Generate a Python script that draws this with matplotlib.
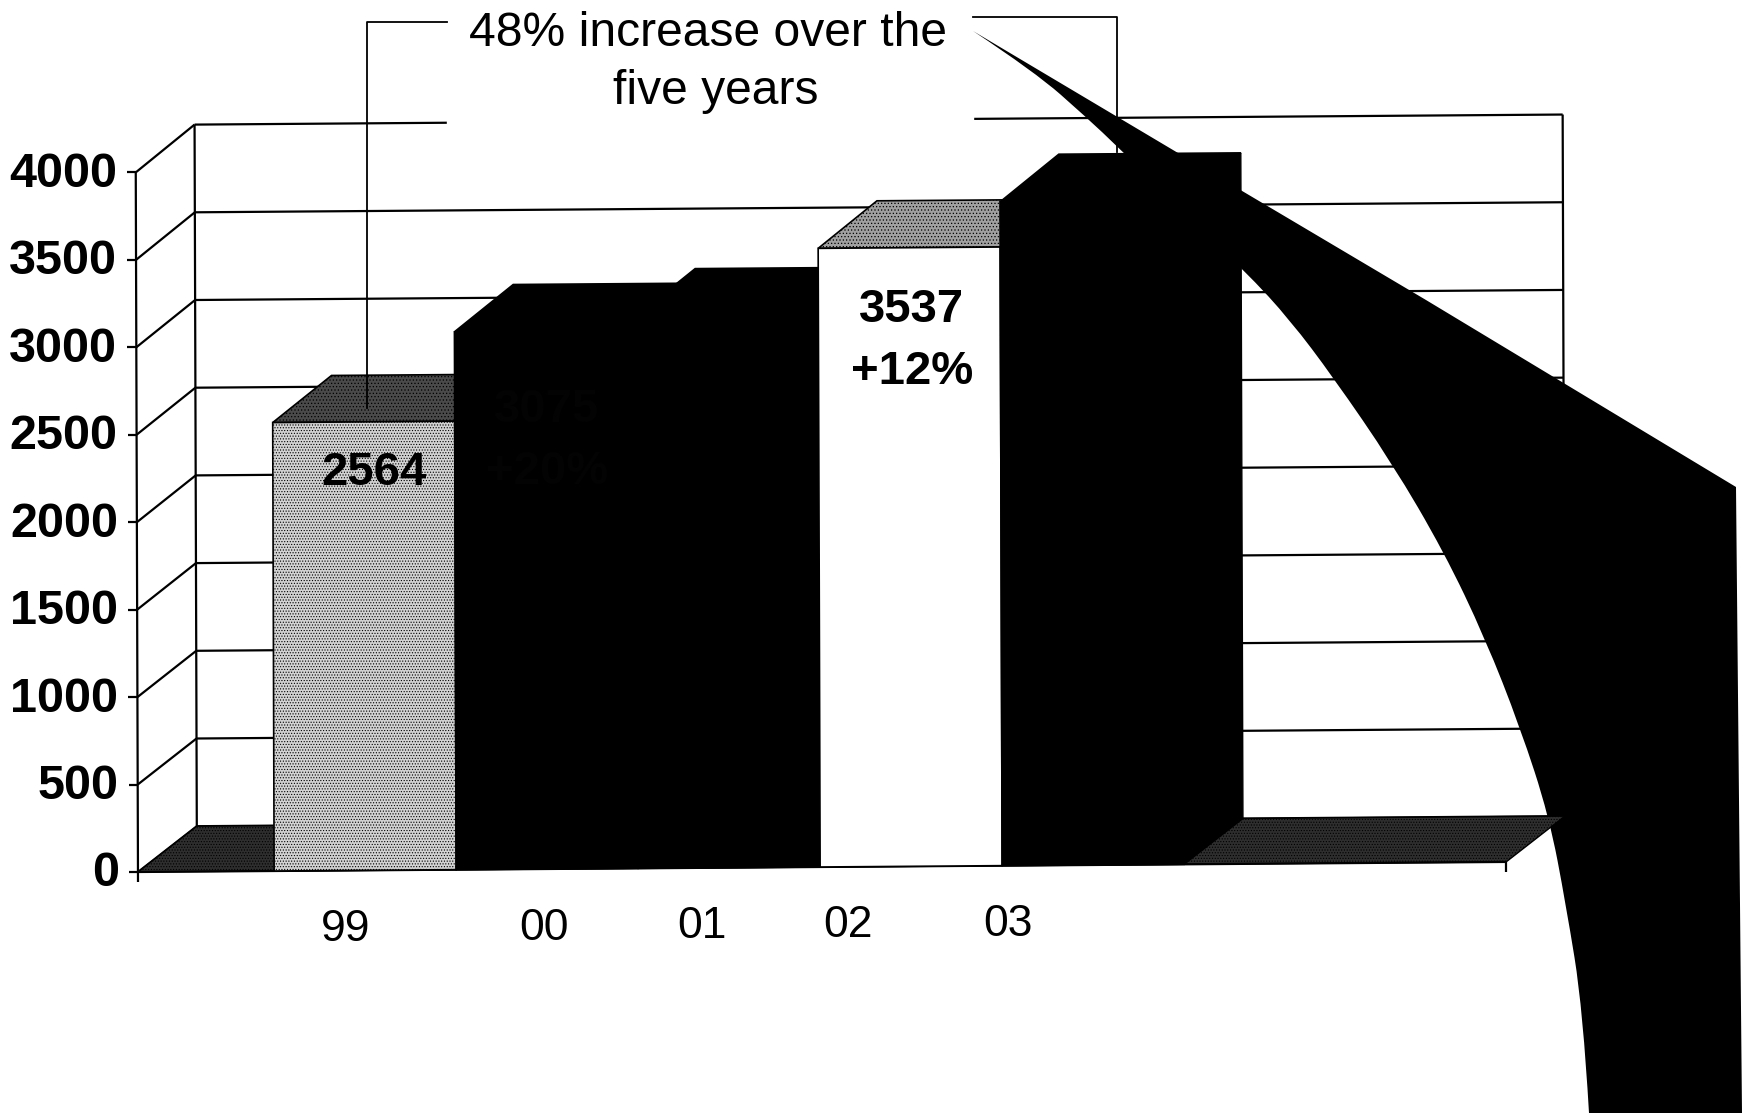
"""
Orders per year as an oblique 3-D column chart with a callout arrow.
"""

import numpy as np
import matplotlib
matplotlib.use("Agg")
import matplotlib.pyplot as plt
from matplotlib.patches import PathPatch, Polygon
from matplotlib.path import Path
from matplotlib.transforms import Affine2D

plt.rcParams["font.family"] = ["Liberation Sans", "DejaVu Sans"]
plt.rcParams["hatch.linewidth"] = 0.5

YEARS = ["99", "00", "01", "02", "03"]
VALUES = [2564, 3075, 3158, 3537, 3795]
BAR_LABELS = ["2564", "3075\n+20%", "", "3537\n+12%", ""]
Y_TICKS = [0, 500, 1000, 1500, 2000, 2500, 3000, 3500, 4000]
CALLOUT_LINES = ["48% increase over the", "five years"]

FACE_COLORS = ["#d2d2d2", "black", "black", "white", "black"]
TOP_COLORS = ["#4a4a4a", "black", "black", "#a0a0a0", "black"]
LABEL_COLORS = ["black", "#030303", "black", "black", "black"]

# page geometry of the chart, in pixels
WIDTH, HEIGHT = 1750, 1113
ORIGIN = (138, 872)
SLOT_W = 182.0
PER_UNIT = 0.1749
PER_UNIT_BACK = 0.1754
SKEW_X = -0.00735
SKEW_Y = -0.00056
DEPTH = (58.8, -45.8)
X_START = 0.748
X_END = 7.517
YEAR_X = [1.14, 2.23, 3.10, 3.90, 4.78]
LABEL_POS = {0: (374, 473), 1: (547, 441), 3: (912, 341)}
CALLOUT_POS = [(708, 33), (716, 92)]

# outline of the sweeping arrow: straight outer edge, then control points of
# the curved inner edge running from the bottom of the page back to the tip
ARROW_OUTER = [(973, 31), (1173, 150), (1426, 300), (1736, 487), (1742, 1113), (1589, 1113)]
ARROW_INNER = [
    (1583, 1010), (1566, 905), (1549, 816), (1520, 727), (1485, 638),
    (1444, 552), (1392, 463), (1333, 377), (1290, 320), (1247, 273),
    (1119, 148), (1086, 117), (1035, 72), (973, 31),
]


def project(x, v, d=0.0):
    """Category slot, value and depth (0 front, 1 back) to page pixels."""
    scale = PER_UNIT + (PER_UNIT_BACK - PER_UNIT) * d
    px = ORIGIN[0] + x * SLOT_W + v * SKEW_Y + d * DEPTH[0]
    py = ORIGIN[1] + x * SLOT_W * SKEW_X - v * scale + d * DEPTH[1]
    return px, py


def arrow_path():
    """Closed path of the arrow with a smooth inner edge."""
    verts = list(ARROW_OUTER)
    codes = [Path.MOVETO] + [Path.LINETO] * (len(ARROW_OUTER) - 1)
    inner = np.array(ARROW_INNER, dtype=float)
    for k in range(len(inner) - 1):
        end = inner[k + 1] if k == len(inner) - 2 else (inner[k] + inner[k + 1]) / 2
        verts += [tuple(inner[k]), tuple(end)]
        codes += [Path.CURVE3, Path.CURVE3]
    return Path(verts, codes)


def main() -> None:
    fig = plt.figure(figsize=(WIDTH / 100, HEIGHT / 100), dpi=100)
    ax = fig.add_axes([0, 0, 1, 1])
    ax.set_xlim(0, WIDTH)
    ax.set_ylim(HEIGHT, 0)
    ax.axis("off")
    ax.set_autoscale_on(False)

    # chart space -> page pixels, so the columns can go through ax.bar
    chart = Affine2D.from_values(
        SLOT_W, SLOT_W * SKEW_X, SKEW_Y, -PER_UNIT, ORIGIN[0], ORIGIN[1]
    ) + ax.transData

    line = {"color": "black", "lw": 1.6, "solid_capstyle": "butt"}
    top = Y_TICKS[-1]

    # back wall, side wall and gridlines
    for tick in Y_TICKS:
        px, py = project(0, tick)
        ax.plot(*zip(project(0, tick), project(0, tick, 1)), **line)
        ax.plot(*zip(project(0, tick, 1), project(X_END, tick, 1)), **line)
        ax.plot([px - 9, px], [py, py], **line)
    ax.plot(*zip(project(0, 0, 1), project(0, top, 1)), **line)
    ox, oy = project(0, 0)
    ax.plot(*zip((ox, oy + 10), project(0, top)), **line)
    ax.plot(*zip(project(X_END, 0, 1), project(X_END, top, 1)), **line)

    # callout background blanks the gridlines behind the text
    ax.fill([447, 973, 973, 447], [0, 0, 130, 130], color="white", zorder=2)
    ax.plot([447, 367, 367], [22, 22, 408], color="black", lw=1.3, zorder=30)
    ax.plot([973, 1117, 1117], [17, 17, 152], color="black", lw=1.3, zorder=2)
    for (tx, ty), text in zip(CALLOUT_POS, CALLOUT_LINES):
        ax.text(tx, ty, text, ha="center", va="center", fontsize=34.6, zorder=3)

    # sweeping arrow from the callout down off the page
    ax.add_patch(PathPatch(arrow_path(), fc="black", ec="none", zorder=3))

    # floor
    floor = [project(0, 0), project(0, 0, 1), project(X_END, 0, 1), project(X_END, 0)]
    ax.add_patch(Polygon(floor, fc="#2e2e2e", ec="black", lw=1, hatch="......",
                         zorder=4))
    ax.plot(*zip(project(0, 0), project(X_END, 0)), zorder=4, **line)
    ex, ey = project(X_END, 0)
    ax.plot([ex, ex], [ey, ey + 10], zorder=4, **line)

    # columns: side, top, then front face drawn through the chart transform
    lefts = X_START + np.arange(len(VALUES))
    for i, value in enumerate(VALUES):
        x0, x1 = lefts[i], lefts[i] + 1
        side = [project(x1, 0), project(x1, 0, 1), project(x1, value, 1), project(x1, value)]
        lid = [project(x0, value), project(x0, value, 1), project(x1, value, 1), project(x1, value)]
        ax.add_patch(Polygon(side, fc="black", ec="black", lw=1, zorder=5 + i))
        ax.add_patch(Polygon(lid, fc=TOP_COLORS[i], ec="black", lw=1.2, zorder=5 + i,
                             hatch="....." if TOP_COLORS[i] != "black" else None))
        ax.bar(x0 + 0.5, value, width=1.0, transform=chart, color=FACE_COLORS[i],
               edgecolor="black", lw=1.2, zorder=5 + i,
               hatch="......" if i == 0 else None)
        if BAR_LABELS[i]:
            lx, ly = LABEL_POS[i]
            ax.text(lx, ly, BAR_LABELS[i], ha="center", va="center", fontsize=34,
                    fontweight="bold", color=LABEL_COLORS[i], linespacing=1.5,
                    zorder=20)

    # axis labels
    for tick in Y_TICKS:
        px, py = project(0, tick)
        ax.text(px - 19, py + 2, str(tick), ha="right", va="center", fontsize=35,
                fontweight="bold", zorder=6)
    for pos, year in zip(YEAR_X, YEARS):
        px, py = project(pos, 0)
        ax.text(px, py + 59, year, ha="center", va="center", fontsize=32, zorder=6)

    fig.savefig("out.png", dpi=100)


if __name__ == "__main__":
    main()
